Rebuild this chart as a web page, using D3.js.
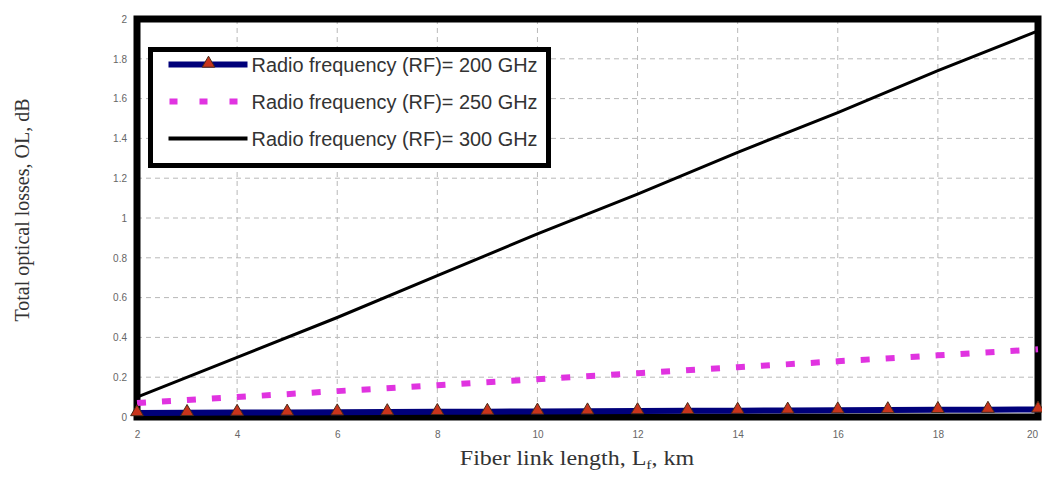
<!DOCTYPE html>
<html>
<head>
<meta charset="utf-8">
<script src="https://cdn.jsdelivr.net/npm/d3@7"></script>
<style>
  body { margin: 0; background: #fff; }
  svg { display: block; }
</style>
</head>
<body>
<div id="chart"></div>
<script>
// fiber link length, km
const lengths = [2, 3, 4, 5, 6, 7, 8, 9, 10, 11, 12, 13, 14, 15, 16, 17, 18, 19, 20];
// total optical losses, dB
const rf200 = [0.020, 0.021, 0.022, 0.023, 0.024, 0.025, 0.026, 0.027, 0.028, 0.029, 0.030, 0.031, 0.032, 0.033, 0.034, 0.035, 0.036, 0.037, 0.038];
const evenLengths = [2, 4, 6, 8, 10, 12, 14, 16, 18, 20];
const rf250 = [0.07, 0.10, 0.13, 0.16, 0.19, 0.22, 0.25, 0.28, 0.31, 0.34];
const rf300 = [0.10, 0.30, 0.50, 0.71, 0.92, 1.12, 1.33, 1.53, 1.74, 1.94];

const xTicks = [2, 4, 6, 8, 10, 12, 14, 16, 18, 20];
const yTicks = [0, 0.2, 0.4, 0.6, 0.8, 1, 1.2, 1.4, 1.6, 1.8, 2];
const legendLabels = [
    "Radio frequency (RF)= 200 GHz",
    "Radio frequency (RF)= 250 GHz",
    "Radio frequency (RF)= 300 GHz"
];

const W = 1042, H = 485;
const margin = { top: 19, right: 4, bottom: 68, left: 137 };
const width = W - margin.left - margin.right;
const height = H - margin.top - margin.bottom;

const svg = d3.select("#chart")
    .append("svg")
    .attr("width", W)
    .attr("height", H);

const g = svg.append("g")
    .attr("transform", `translate(${margin.left},${margin.top})`);

const x = d3.scaleLinear().domain([2, 20]).range([0, width]);
const y = d3.scaleLinear().domain([0, 2]).range([height, 0]);

// grid
g.append("g")
    .selectAll("line")
    .data(xTicks.slice(1, -1))
    .join("line")
    .attr("x1", d => x(d)).attr("x2", d => x(d))
    .attr("y1", 0).attr("y2", height)
    .attr("stroke", "#b8b8b8")
    .attr("stroke-dasharray", "5,4");

g.append("g")
    .selectAll("line")
    .data(yTicks.slice(1, -1))
    .join("line")
    .attr("y1", d => y(d)).attr("y2", d => y(d))
    .attr("x1", 0).attr("x2", width)
    .attr("stroke", "#b8b8b8")
    .attr("stroke-dasharray", "5,4");

// axes (tick labels only)
const xAxis = g.append("g")
    .attr("transform", `translate(0,${height})`)
    .call(d3.axisBottom(x).tickValues(xTicks).tickSize(0).tickPadding(14).tickFormat(d3.format("d")));
const yAxis = g.append("g")
    .call(d3.axisLeft(y).tickValues(yTicks).tickSize(0).tickPadding(10).tickFormat(d => d3.format("")(d)));
[xAxis, yAxis].forEach(a => {
    a.select(".domain").remove();
    a.selectAll(".tick text")
        .attr("fill", "#666")
        .style("font-family", "Liberation Sans, Arial, sans-serif")
        .style("font-size", "10px");
});
xAxis.selectAll(".tick text").filter(d => d === 20).attr("dx", -6);

// frame
g.append("rect")
    .attr("width", width)
    .attr("height", height)
    .attr("fill", "none")
    .attr("stroke", "#000")
    .attr("stroke-width", 7);

const line = d3.line()
    .x(d => x(d[0]))
    .y(d => y(d[1]));

g.append("path")
    .datum(evenLengths.map((d, i) => [d, rf300[i]]))
    .attr("fill", "none")
    .attr("stroke", "#000")
    .attr("stroke-width", 3)
    .attr("d", line);

g.append("path")
    .datum(evenLengths.map((d, i) => [d, rf250[i]]))
    .attr("fill", "none")
    .attr("stroke", "#e033e0")
    .attr("stroke-width", 6)
    .attr("stroke-dasharray", "9,16")
    .attr("d", line);

const data200 = lengths.map((d, i) => [d, rf200[i]]);
g.append("path")
    .datum(data200)
    .attr("fill", "none")
    .attr("stroke", "#00007a")
    .attr("stroke-width", 6)
    .attr("d", line);

const tri = d3.symbol().type(d3.symbolTriangle).size(70);
g.append("g")
    .selectAll("path")
    .data(data200)
    .join("path")
    .attr("transform", d => `translate(${x(d[0])},${y(d[1]) - 1})`)
    .attr("d", tri)
    .attr("fill", "#c8341c")
    .attr("stroke", "#4a2a18")
    .attr("stroke-width", 1);

// legend
const lg = svg.append("g").attr("transform", "translate(150.5,49.5)");
lg.append("rect")
    .attr("width", 398)
    .attr("height", 116)
    .attr("fill", "#fff")
    .attr("stroke", "#000")
    .attr("stroke-width", 5);

const rows = [15, 52, 89];
const styles = [
    { stroke: "#00007a", w: 6, dash: null },
    { stroke: "#e033e0", w: 6, dash: "8,22" },
    { stroke: "#000", w: 4, dash: null }
];
rows.forEach((ry, i) => {
    lg.append("line")
        .attr("x1", i === 1 ? 19 : 18).attr("x2", 97)
        .attr("y1", ry).attr("y2", ry)
        .attr("stroke", styles[i].stroke)
        .attr("stroke-width", styles[i].w)
        .attr("stroke-dasharray", styles[i].dash);
    if (i === 0) {
        lg.append("path")
            .attr("transform", `translate(58,${ry - 1})`)
            .attr("d", tri)
            .attr("fill", "#c8341c")
            .attr("stroke", "#4a2a18");
    }
    lg.append("text")
        .attr("x", 101)
        .attr("y", ry + 7)
        .attr("fill", "#333")
        .attr("textLength", 286)
        .attr("lengthAdjust", "spacingAndGlyphs")
        .style("font-family", "Liberation Sans, Arial, sans-serif")
        .style("font-size", "20px")
        .text(legendLabels[i]);
});

// axis titles
svg.append("text")
    .attr("transform", "translate(29,210) rotate(-90)")
    .attr("text-anchor", "middle")
    .attr("fill", "#333")
    .style("font-family", "Liberation Serif, Times New Roman, serif")
    .style("font-size", "20px")
    .text("Total optical losses, OL, dB");

const xt = svg.append("text")
    .attr("transform", "translate(577,465) scale(1.2,1)")
    .attr("text-anchor", "middle")
    .attr("fill", "#333")
    .style("font-family", "Liberation Serif, Times New Roman, serif")
    .style("font-size", "20px");
xt.append("tspan").text("Fiber link length, L");
xt.append("tspan").attr("dy", 4).style("font-size", "13px").text("f");
xt.append("tspan").attr("dy", -4).text(", km");
</script>
</body>
</html>
